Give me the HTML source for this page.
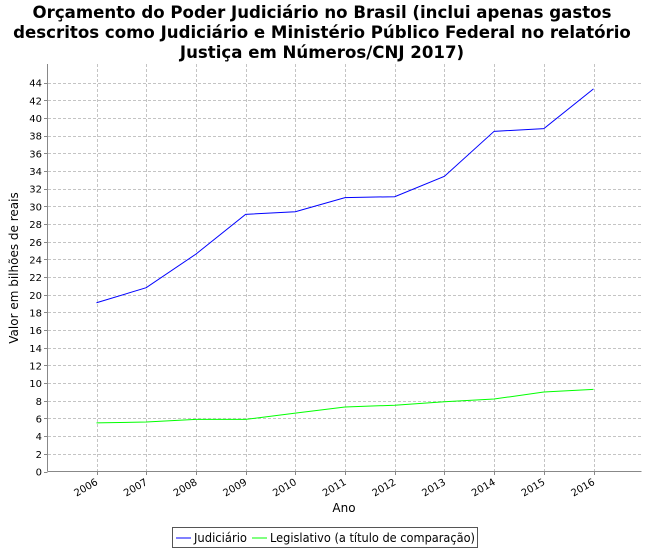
<!DOCTYPE html>
<html><head><meta charset="utf-8"><style>body{margin:0;background:#fff}svg{display:block}</style></head><body>
<svg width="650" height="550" xmlns="http://www.w3.org/2000/svg" font-family="'DejaVu Sans', 'Liberation Sans', sans-serif">
<rect width="650" height="550" fill="#fff"/>
<g font-size="16.6" font-weight="bold" text-anchor="middle" fill="#000">
<text x="322" y="18">Orçamento do Poder Judiciário no Brasil (inclui apenas gastos</text>
<text x="322" y="38">descritos como Judiciário e Ministério Público Federal no relatório</text>
<text x="322" y="58">Justiça em Números/CNJ 2017)</text>
</g>
<rect x="47.5" y="64" width="594" height="407.5" fill="#fff"/>
<g id="grid" stroke="#c4c4c4" stroke-width="1" stroke-dasharray="3,2"></g>
<g id="ticks" font-size="10" fill="#000"></g>
<line x1="47.5" y1="64" x2="47.5" y2="471.5" stroke="#888"/>
<line x1="47.5" y1="471.5" x2="641.5" y2="471.5" stroke="#888"/>
<polyline id="j" fill="none" stroke="#0000ff" stroke-width="1"/>
<polyline id="l" fill="none" stroke="#00ff00" stroke-width="1"/>
<text x="18" y="268" font-size="12" text-anchor="middle" transform="rotate(-90 18 268)">Valor em bilhões de reais</text>
<text x="344" y="512" font-size="12" text-anchor="middle">Ano</text>
<rect x="172.5" y="527.5" width="305" height="20" fill="#fff" stroke="#555"/>
<line x1="176" y1="538" x2="191" y2="538" stroke="#0000ff"/>
<text x="194" y="542" font-size="12" textLength="53" lengthAdjust="spacingAndGlyphs">Judiciário</text>
<line x1="252" y1="538" x2="267" y2="538" stroke="#00ff00"/>
<text x="270" y="542" font-size="12" textLength="205" lengthAdjust="spacingAndGlyphs">Legislativo (a título de comparação)</text>
</svg>
<script>
var ns="http://www.w3.org/2000/svg";
function Y(v){return 471.5-v*8.836}
function X(i){return 96.5+i*49.7}
var g=document.getElementById('grid'),t=document.getElementById('ticks');
for(var v=2;v<=44;v+=2){var l=document.createElementNS(ns,'line');l.setAttribute('x1',48);l.setAttribute('x2',641);l.setAttribute('y1',Math.round(Y(v))+.5);l.setAttribute('y2',Math.round(Y(v))+.5);g.appendChild(l);}
for(var v=0;v<=44;v+=2){var tx=document.createElementNS(ns,'text');tx.setAttribute('x',42);tx.setAttribute('y',Y(v)+4);tx.setAttribute('text-anchor','end');tx.textContent=v;t.appendChild(tx);
var tk=document.createElementNS(ns,'line');tk.setAttribute('x1',44);tk.setAttribute('x2',47.5);tk.setAttribute('y1',Math.round(Y(v))+.5);tk.setAttribute('y2',Math.round(Y(v))+.5);tk.setAttribute('stroke','#888');t.appendChild(tk);}
for(var i=0;i<11;i++){var x=Math.round(X(i))+.5;var l=document.createElementNS(ns,'line');l.setAttribute('x1',x);l.setAttribute('x2',x);l.setAttribute('y1',64);l.setAttribute('y2',471);g.appendChild(l);
var tk=document.createElementNS(ns,'line');tk.setAttribute('x1',x);tk.setAttribute('x2',x);tk.setAttribute('y1',471.5);tk.setAttribute('y2',475);tk.setAttribute('stroke','#888');t.appendChild(tk);
var tx=document.createElementNS(ns,'text');var px=X(i)+2,py=484;tx.setAttribute('x',px);tx.setAttribute('y',py);tx.setAttribute('text-anchor','end');tx.setAttribute('transform','rotate(-30 '+px+' '+py+')');tx.textContent=2006+i;t.appendChild(tx);}
var J=[19.1,20.8,24.6,29.1,29.4,31.0,31.1,33.4,38.5,38.8,43.3],L=[5.5,5.6,5.9,5.9,6.6,7.3,7.5,7.9,8.2,9.0,9.3];
function pts(a){return a.map(function(v,i){return X(i)+','+Y(v)}).join(' ')}
document.getElementById('j').setAttribute('points',pts(J));
document.getElementById('l').setAttribute('points',pts(L));
</script>
</body></html>
